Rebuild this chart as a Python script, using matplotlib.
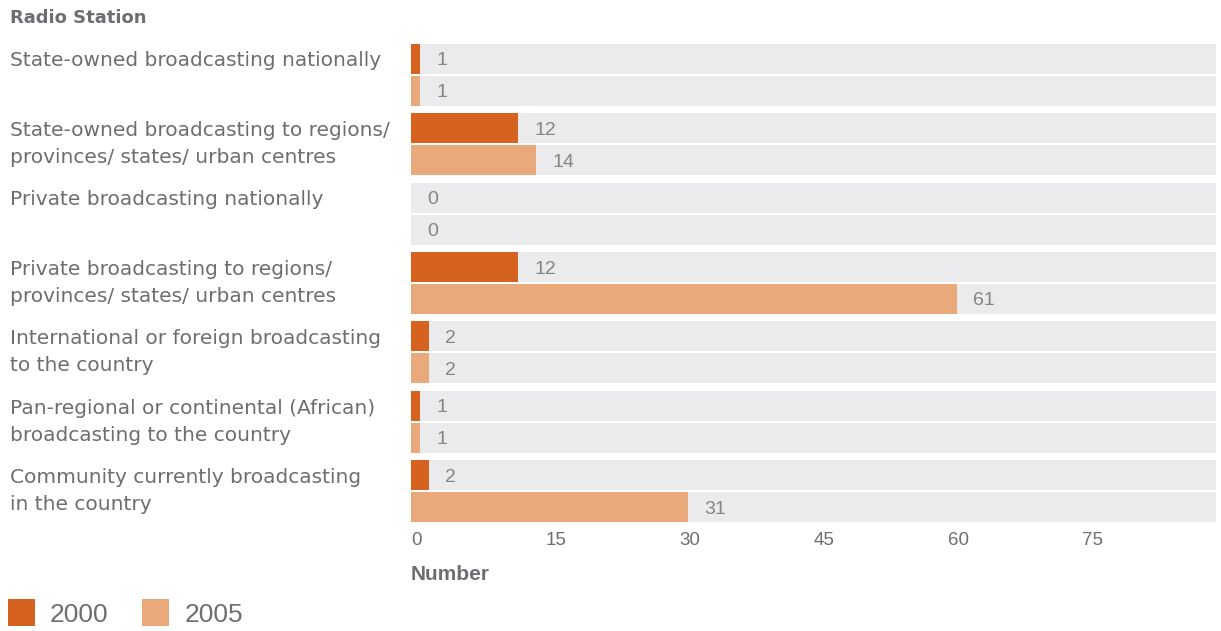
import matplotlib
matplotlib.use('Agg')
import matplotlib.pyplot as plt

# data
categories = [
    'State-owned broadcasting nationally',
    'State-owned broadcasting to regions/\nprovinces/ states/ urban centres',
    'Private broadcasting nationally',
    'Private broadcasting to regions/\nprovinces/ states/ urban centres',
    'International or foreign broadcasting\nto the country',
    'Pan-regional or continental (African)\nbroadcasting to the country',
    'Community currently broadcasting\nin the country',
]
values_2000 = [1, 12, 0, 12, 2, 1, 2]
values_2005 = [1, 14, 0, 61, 2, 1, 31]
series_names = ['2000', '2005']
x_ticks = [0, 15, 30, 45, 60, 75]

c2000 = '#D5621F'
c2005 = '#E9A97B'
bg = '#EBEBED'
text_col = '#6D6E71'
val_col = '#858585'

plt.rcParams['font.family'] = ['Liberation Sans', 'DejaVu Sans']
narrow = ['Liberation Sans Narrow', 'Liberation Sans', 'DejaVu Sans']

W, H = 1221, 631
fig = plt.figure(figsize=(W / 100, H / 100), dpi=100)
ax = fig.add_axes([411 / W, (H - 522) / H, (1216 - 411) / W, (522 - 44) / H])

xmax = 90
pitch = 69.5
for i, cat in enumerate(categories):
    y0 = i * pitch
    y1 = i * pitch + 32
    for y, v, c in [(y0, values_2000[i], c2000), (y1, values_2005[i], c2005)]:
        ax.barh(y, xmax, height=30, color=bg, linewidth=0)
        ax.barh(y, v, height=30, color=c, linewidth=0)
        ax.text(v + 1.8, y + 2, str(v), ha='left', va='center',
                fontsize=14, color=val_col)
    # category label, top aligned with group
    fig.text(10 / W, 1 - (44 + y0 + 7) / H, cat, ha='left', va='top',
             fontsize=14.5, color=text_col, linespacing=1.55,
             family=['DejaVu Sans'])

ax.set_xlim(0, xmax)
ax.set_ylim(6 * pitch + 32 + 15, -15)
ax.set_yticks([])
ax.set_xticks(x_ticks)
ax.set_xticklabels([str(t) for t in x_ticks], ha='left', family=narrow)
ax.tick_params(axis='x', length=0, pad=7, labelsize=13.5, labelcolor=text_col)
for s in ax.spines.values():
    s.set_visible(False)

fig.text(10 / W, 1 - 18 / H, 'Radio Station', ha='left', va='center',
         fontsize=13, fontweight='bold', color=text_col, family=['DejaVu Sans'])
fig.text(411 / W, 1 - 575 / H, 'Number', ha='left', va='center',
         fontsize=15, fontweight='bold', color=text_col, family=narrow)

# legend
for x_sq, x_txt, c, name in [(8, 50, c2000, series_names[0]), (142, 185, c2005, series_names[1])]:
    fig.patches.append(plt.Rectangle((x_sq / W, 1 - 626 / H), 27 / W, 27 / H,
                                     transform=fig.transFigure, color=c, linewidth=0))
    fig.text(x_txt / W, 1 - 615 / H, name, ha='left', va='center',
             fontsize=19, color=text_col)

fig.savefig('out.png', dpi=100)
